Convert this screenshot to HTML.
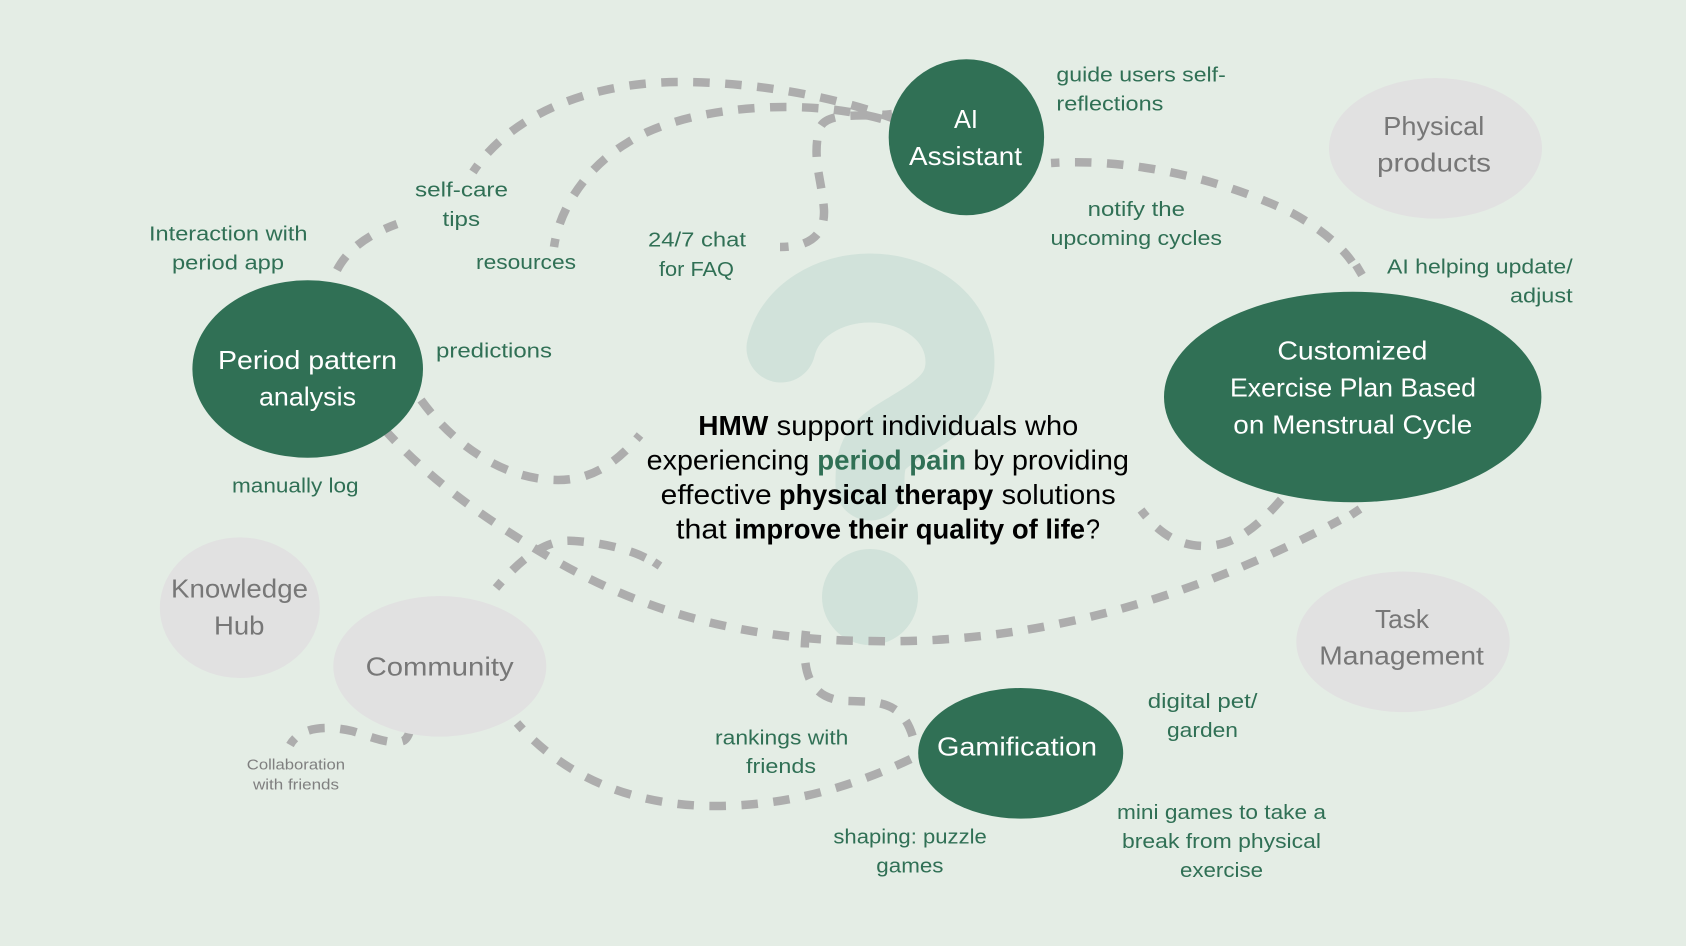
<!DOCTYPE html>
<html><head><meta charset="utf-8"><style>
html,body{margin:0;padding:0;background:#E4EDE5}
svg{display:block}
text{font-family:"Liberation Sans",sans-serif}
.g{fill:#307055;font-size:20.5px}
.w{fill:#fff;font-size:26px}
.n{fill:#777;font-size:26px}
.c{fill:#000;font-size:27.5px}
.b{font-weight:bold}
.d{fill:none;stroke:#ADADAD;stroke-width:8.5;stroke-dasharray:16.5 15.5}
.o{stroke-dashoffset:8}
.s{fill:none;stroke:#ADADAD;stroke-width:8.5}
</style></head><body>
<svg width="1686" height="946" viewBox="0 0 1686 946" xmlns="http://www.w3.org/2000/svg">
<rect width="1686" height="946" fill="#E4EDE5"/>
<!-- question mark -->
<path d="M781 348C790 310 830 288 870 288C920 288 960 320 960 362C960 395 935 410 905 428C880 443 870 450 870 480L870 486" fill="none" stroke="#D1E2DA" stroke-width="69" stroke-linecap="round"/>
<circle cx="870" cy="597" r="48" fill="#D1E2DA"/>
<!-- connectors -->
<path class="d" d="M337 270C350 245 375 232 397 224"/>
<path class="d o" d="M473 172C510 115 590 82 680 82C750 82 830 95 892 118"/>
<path class="d o" d="M554 247C560 205 590 165 627 143C665 118 730 107 785 107C825 107 860 112 892 122"/>
<path class="d o" d="M780 247C810 247 825 235 824 210C822 180 812 160 819 130C825 110 860 118 892 114"/>
<path class="d o" d="M1051 163C1130 158 1220 178 1292 213C1320 228 1342 247 1352 262"/>
<path class="s" d="M1356 265L1362 275"/>
<path class="d" d="M421 400C450 440 500 480 558 480C590 480 615 465 640 435"/>
<path class="d" d="M384 429C430 480 480 515 539 551C620 600 720 640 870 641C1040 645 1200 595 1340 520"/>
<path class="s" d="M1351 515L1360 509"/>
<path class="d" d="M806 631C802 665 805 700 848 701C880 702 905 700 915 745"/>
<path class="d o" d="M517 723C560 772 625 806 716 806C790 806 860 785 925 752"/>
<path class="d o" d="M496 588C520 560 545 538 575 541C605 543 630 550 646 558"/>
<path class="s" d="M654 562L660 566"/>
<path class="d o" d="M290 745C300 727 325 725 352 731C372 737 390 745 403 741C407 739 410 733 411 725"/>
<path class="d o" d="M1141 510C1160 535 1180 546 1205 546C1235 546 1260 525 1285 495"/>
<!-- nodes -->
<ellipse cx="307.7" cy="369" rx="115.3" ry="88.7" fill="#307055"/>
<ellipse cx="966.4" cy="137.3" rx="77.7" ry="78" fill="#307055"/>
<ellipse cx="1352.7" cy="397" rx="188.7" ry="105.3" fill="#307055"/>
<ellipse cx="1020.7" cy="753.3" rx="102.5" ry="65.3" fill="#307055"/>
<ellipse cx="1435.5" cy="148.3" rx="106.5" ry="70.3" fill="#E1E1E1"/>
<ellipse cx="239.8" cy="607.7" rx="80" ry="70.3" fill="#E1E1E1"/>
<ellipse cx="439.8" cy="666.3" rx="106.5" ry="70.3" fill="#E1E1E1"/>
<ellipse cx="1403" cy="641.8" rx="106.7" ry="70.3" fill="#E1E1E1"/>
<!-- node text -->
<text class="w" x="218" y="369" textLength="179" lengthAdjust="spacingAndGlyphs">Period pattern</text>
<text class="w" x="259" y="405.7" textLength="97" lengthAdjust="spacingAndGlyphs">analysis</text>
<text class="w" x="954" y="128" textLength="24" lengthAdjust="spacingAndGlyphs">AI</text>
<text class="w" x="909" y="165" textLength="113" lengthAdjust="spacingAndGlyphs">Assistant</text>
<text class="w" x="1277.4" y="359.3" textLength="150" lengthAdjust="spacingAndGlyphs">Customized</text>
<text class="w" x="1230" y="396.7" textLength="246" lengthAdjust="spacingAndGlyphs">Exercise Plan Based</text>
<text class="w" x="1233.3" y="433.3" textLength="239" lengthAdjust="spacingAndGlyphs">on Menstrual Cycle</text>
<text class="w" x="937" y="755.5" textLength="160" lengthAdjust="spacingAndGlyphs">Gamification</text>
<text class="n" x="1383.3" y="135" textLength="101" lengthAdjust="spacingAndGlyphs">Physical</text>
<text class="n" x="1377" y="171.7" textLength="114" lengthAdjust="spacingAndGlyphs">products</text>
<text class="n" x="171" y="597.5" textLength="137" lengthAdjust="spacingAndGlyphs">Knowledge</text>
<text class="n" x="214" y="634.5" textLength="50.5" lengthAdjust="spacingAndGlyphs">Hub</text>
<text class="n" x="365.6" y="675.3" textLength="148" lengthAdjust="spacingAndGlyphs">Community</text>
<text class="n" x="1375" y="628" textLength="54" lengthAdjust="spacingAndGlyphs">Task</text>
<text class="n" x="1319.3" y="664.7" textLength="164.6" lengthAdjust="spacingAndGlyphs">Management</text>
<!-- labels -->
<text class="g" x="149" y="240.7" textLength="158.5" lengthAdjust="spacingAndGlyphs">Interaction with</text>
<text class="g" x="172" y="269.5" textLength="112" lengthAdjust="spacingAndGlyphs">period app</text>
<text class="g" x="415" y="196.7" textLength="93" lengthAdjust="spacingAndGlyphs">self-care</text>
<text class="g" x="442.5" y="226" textLength="37.5" lengthAdjust="spacingAndGlyphs">tips</text>
<text class="g" x="476" y="269" textLength="100" lengthAdjust="spacingAndGlyphs">resources</text>
<text class="g" x="648" y="246.7" textLength="98" lengthAdjust="spacingAndGlyphs">24/7 chat</text>
<text class="g" x="659" y="276" textLength="75" lengthAdjust="spacingAndGlyphs">for FAQ</text>
<text class="g" x="436" y="357.7" textLength="116" lengthAdjust="spacingAndGlyphs">predictions</text>
<text class="g" x="232" y="492.3" textLength="126.6" lengthAdjust="spacingAndGlyphs">manually log</text>
<text class="g" x="1056.4" y="81.7" textLength="169.4" lengthAdjust="spacingAndGlyphs">guide users self-</text>
<text class="g" x="1056.4" y="110.7" textLength="107" lengthAdjust="spacingAndGlyphs">reflections</text>
<text class="g" x="1087.6" y="216" textLength="97.4" lengthAdjust="spacingAndGlyphs">notify the</text>
<text class="g" x="1050.5" y="245" textLength="171.5" lengthAdjust="spacingAndGlyphs">upcoming cycles</text>
<text class="g" x="1387" y="273.3" textLength="185.6" lengthAdjust="spacingAndGlyphs">AI helping update/</text>
<text class="g" x="1510" y="302.3" textLength="62.6" lengthAdjust="spacingAndGlyphs">adjust</text>
<text class="g" x="715" y="744.7" textLength="133.4" lengthAdjust="spacingAndGlyphs">rankings with</text>
<text class="g" x="746" y="773" textLength="70" lengthAdjust="spacingAndGlyphs">friends</text>
<text class="g" x="833.4" y="843.7" textLength="153.4" lengthAdjust="spacingAndGlyphs">shaping: puzzle</text>
<text class="g" x="876.3" y="872.3" textLength="67.2" lengthAdjust="spacingAndGlyphs">games</text>
<text class="g" x="1147.8" y="708" textLength="109.7" lengthAdjust="spacingAndGlyphs">digital pet/</text>
<text class="g" x="1167" y="737" textLength="71" lengthAdjust="spacingAndGlyphs">garden</text>
<text class="g" x="1117" y="819" textLength="209" lengthAdjust="spacingAndGlyphs">mini games to take a</text>
<text class="g" x="1122" y="848" textLength="199" lengthAdjust="spacingAndGlyphs">break from physical</text>
<text class="g" x="1180" y="877" textLength="83" lengthAdjust="spacingAndGlyphs">exercise</text>
<text x="246.8" y="769.7" textLength="98.2" lengthAdjust="spacingAndGlyphs" font-size="15" fill="#7f7f7f">Collaboration</text>
<text x="253" y="789.7" textLength="86" lengthAdjust="spacingAndGlyphs" font-size="15" fill="#7f7f7f">with friends</text>
<!-- centre text -->
<text class="c b" x="698.3" y="435" textLength="70" lengthAdjust="spacingAndGlyphs">HMW</text>
<text class="c" x="776.7" y="435" textLength="301.6" lengthAdjust="spacingAndGlyphs">support individuals who</text>
<text class="c" x="646.7" y="469.3" textLength="162.6" lengthAdjust="spacingAndGlyphs">experiencing</text>
<text class="c b" x="817.3" y="469.3" textLength="148.7" lengthAdjust="spacingAndGlyphs" style="fill:#307055">period pain</text>
<text class="c" x="973.3" y="469.3" textLength="155.7" lengthAdjust="spacingAndGlyphs">by providing</text>
<text class="c" x="660.7" y="504" textLength="111" lengthAdjust="spacingAndGlyphs">effective</text>
<text class="c b" x="779" y="504" textLength="214.3" lengthAdjust="spacingAndGlyphs">physical therapy</text>
<text class="c" x="1001.7" y="504" textLength="114" lengthAdjust="spacingAndGlyphs">solutions</text>
<text class="c" x="676" y="538.3" textLength="50.7" lengthAdjust="spacingAndGlyphs">that</text>
<text class="c b" x="734.3" y="538.3" textLength="350.7" lengthAdjust="spacingAndGlyphs">improve their quality of life</text>
<text class="c" x="1086" y="538.3" textLength="14" lengthAdjust="spacingAndGlyphs">?</text>
</svg>
</body></html>
